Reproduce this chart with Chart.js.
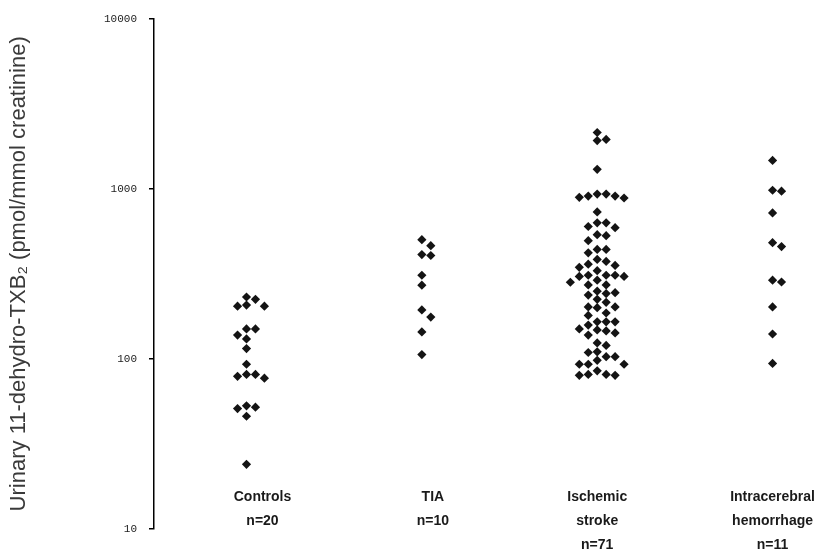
<!DOCTYPE html>
<html>
<head>
<meta charset="utf-8">
<script src="https://cdn.jsdelivr.net/npm/chart.js@4.4.1/dist/chart.umd.min.js"></script>
<style>
html,body{margin:0;padding:0;background:#fff}
#wrap{width:831px;height:560px;position:relative}
</style>
</head>
<body>
<div id="wrap"><canvas id="chart"></canvas></div>
<script>
const groupLabels = [['Controls','n=20'],['TIA','n=10'],['Ischemic','stroke','n=71'],['Intracerebral','hemorrhage','n=11']];
const controls = [231,224,207,204,204,150,150,138,131,115,93,81,79,77,81,53,52,51,46,24];
const tia = [502,463,410,405,310,271,194,176,144,106];
const ischemic = [2140,1950,1920,1300,930,905,882,905,930,890,731,630,630,590,537,530,495,440,440,
  384,374,354,360,345,310,305,310,305,310,282,272,272,250,245,237,242,224,202,200,202,186,
  165,165,158,165,146,142,148,138,124,103,109,103,93,93,93,81,80,81,80,
  600,420,330,290,215,180,150,120,110,98,85];
const hemorrhage = [1467,968,980,721,482,457,290,283,202,140,94];
const yTicks = [10,100,1000,10000];

// simple beeswarm so equal-ish values sit side by side
const PX_PER_DECADE = 171.7, PX_PER_UNIT = 176.3, DOT_W = 9, DOT_H = 8;
function swarm(values, gi){
  const placed = [];
  const sorted = values.slice().sort((a,b)=>b-a);
  for(const v of sorted){
    const py = Math.log10(v)*PX_PER_DECADE;
    for(let k=0;k<40;k++){
      const px = (k%2 ? 1 : -1)*Math.ceil(k/2)*DOT_W;
      const hit = placed.some(p=>Math.abs(p.px-px)<DOT_W && Math.abs(p.py-py)<DOT_H);
      if(!hit){ placed.push({px,py,v}); break; }
    }
  }
  return placed.map(p=>({x: gi + p.px/PX_PER_UNIT, y: p.v}));
}

const series = [controls, tia, ischemic, hemorrhage];

// group names sit inside the bottom of the plot, so draw them by hand at the x scale positions
const labelNudge = [16, 11, 0, 0];
const groupNames = {
  id:'groupNames',
  afterDraw(chart){
    const {ctx, scales:{x}} = chart;
    ctx.save();
    ctx.fillStyle = '#1a1a1a';
    ctx.font = 'bold 14px "Liberation Sans", Arial, sans-serif';
    ctx.textAlign = 'center';
    ctx.textBaseline = 'middle';
    groupLabels.forEach((lines,i)=>{
      const px = x.getPixelForValue(i) + labelNudge[i];
      lines.forEach((t,j)=>ctx.fillText(t, px, 497 + j*24));
    });
    ctx.restore();
  }
};

new Chart(document.getElementById('chart'),{
  type:'scatter',
  data:{datasets: series.map((vals,i)=>({
    data: swarm(vals,i),
    pointStyle:'rectRot',
    pointRadius:4.6,
    pointBackgroundColor:'#141414',
    pointBorderWidth:0
  }))},
  options:{
    responsive:true,
    maintainAspectRatio:false,
    animation:false,
    layout:{padding:{top:6,bottom:31,left:0,right:1}},
    plugins:{legend:{display:false},tooltip:{enabled:false}},
    scales:{
      x:{
        type:'linear',
        display:false,
        min:-0.5275, max:3.307
      },
      y:{
        type:'logarithmic',
        min:10, max:10000,
        afterBuildTicks:s=>{ s.ticks = yTicks.map(v=>({value:v})); },
        afterFit:s=>{ s.width = 154; },
        grid:{display:true,drawOnChartArea:false,drawTicks:true,tickLength:5,color:'#000',lineWidth:1.5},
        border:{display:true,color:'#000',width:1.5},
        ticks:{
          padding:12,
          color:'#222',
          font:{family:'Liberation Mono, monospace',size:11},
          callback:v=>String(v)
        },
        title:{
          display:true,
          text:'Urinary 11-dehydro-TXB\u2082 (pmol/mmol creatinine)',
          color:'#3a3a3a',
          padding:{top:6,bottom:4},
          font:{family:'Liberation Sans, Arial, sans-serif',size:22}
        }
      }
    }
  },
  plugins:[groupNames]
});
</script>
</body>
</html>
